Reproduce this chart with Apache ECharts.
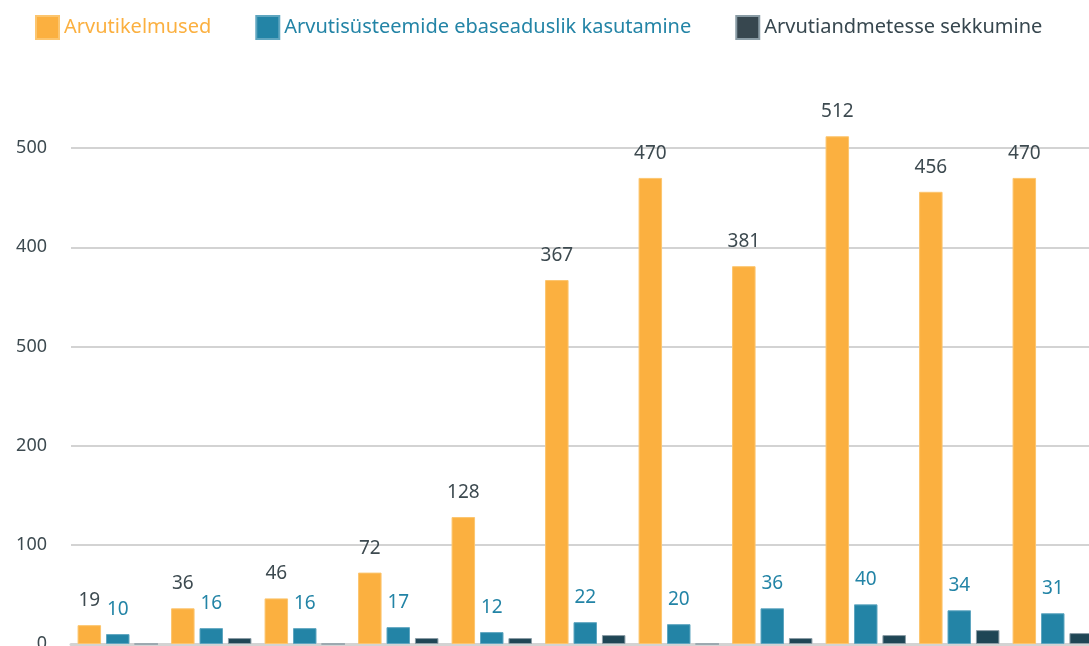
<!DOCTYPE html>
<html>
<head>
<meta charset="utf-8">
<script src="https://cdn.jsdelivr.net/npm/echarts@6/dist/echarts.min.js"></script>
<style>
html,body{margin:0;padding:0;background:#fff;}
#chart{width:1089px;height:646px;}
</style>
</head>
<body>
<div id="chart"></div>
<script>
const categories = ['1','2','3','4','5','6','7','8','9','10','11'];
const seriesNames = ['Arvutikelmused','Arvutisüsteemide ebaseaduslik kasutamine','Arvutiandmetesse sekkumine'];
const fraud = [19, 36, 46, 72, 128, 367, 470, 381, 512, 456, 470];
const illegalUse = [10, 16, 16, 17, 12, 22, 20, 36, 40, 34, 31];
const dataInterference = [0, 6, 0, 6, 6, 9, 0, 6, 9, 14, 11];
const yTickLabels = ['0','100','200','500','400','500',''];

const FONT = 'Noto Sans';
const cOrange = '#FBB040';
const cBlue = '#2384A6';
const cDark = '#1F4655';
const cDarkLegend = '#37474F';
const cText = '#3D4A50';

const chart = echarts.init(document.getElementById('chart'), null, {renderer:'canvas'});
chart.setOption({
  animation: false,
  backgroundColor: '#ffffff',
  textStyle: {fontFamily: FONT},
  legend: {
    left: 30, top: 10,
    itemWidth: 23, itemHeight: 23, itemGap: 44,
    icon: 'rect',
    textStyle: {fontFamily: FONT, fontSize: 20},
    data: [
      {name: seriesNames[0], itemStyle:{color:cOrange}, textStyle:{color:cOrange}},
      {name: seriesNames[1], itemStyle:{color:cBlue}, textStyle:{color:cBlue}},
      {name: seriesNames[2], itemStyle:{color:cDarkLegend}, textStyle:{color:cDarkLegend}}
    ]
  },
  grid: {left: 71, top: 49, bottom: 2, width: 1028.5, containLabel: false, outerBoundsMode: 'none'},
  xAxis: {
    type: 'category',
    data: categories,
    axisLine: {show: true, lineStyle:{color:'#d3d3d3', width:3}},
    axisTick: {show:false},
    axisLabel: {show:false},
    splitLine: {show:false}
  },
  yAxis: {
    type: 'value',
    min: 0, max: 600, interval: 100,
    axisLine: {show:false},
    axisTick: {show:false},
    axisLabel: {
      margin: 24, fontSize: 18, color: cText, fontFamily: FONT,
      formatter: function(v){ return yTickLabels[Math.round(v/100)] || ''; }
    },
    splitLine: {show:true, lineStyle:{width:2, color:['#d3d3d3','#d3d3d3','#d3d3d3','#d3d3d3','#d3d3d3','#d3d3d3','rgba(0,0,0,0)']}}
  },
  series: [
    {name: seriesNames[0], type:'bar', data: fraud, barWidth: 23.5, barGap: '21%',
     itemStyle:{color:cOrange, borderColor:'#fcc56e', borderWidth:1},
     label:{show:true, position:'top', distance:15, color:cText, fontSize:19, fontFamily:FONT}},
    {name: seriesNames[1], type:'bar', data: illegalUse, barWidth: 23.5, barGap: '21%',
     itemStyle:{color:cBlue, borderColor:'#5fa6c0', borderWidth:1},
     label:{show:true, position:'top', distance:15, color:cBlue, fontSize:19, fontFamily:FONT}},
    {name: seriesNames[2], type:'bar', data: dataInterference, barWidth: 23.5, barGap: '21%',
     itemStyle:{color:cDark, borderColor:'#8a9ca5', borderWidth:1},
     label:{show:false}}
  ]
});
</script>
</body>
</html>
